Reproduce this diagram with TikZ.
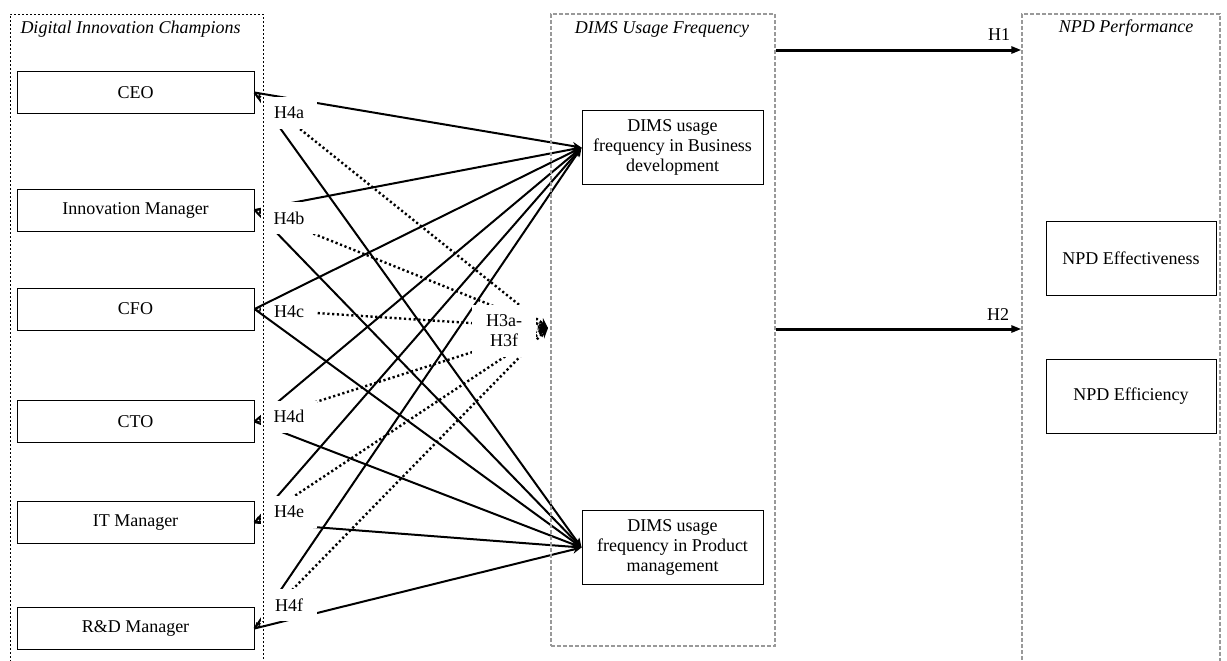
\documentclass[tikz,border=0pt]{standalone}
\usepackage{fontspec}
\setmainfont{Liberation Serif}
\usetikzlibrary{arrows.meta}
\newcommand\myfs{\fontsize{9}{10}\selectfont}
\tikzset{
  box/.style={draw, line width=0.5pt, inner sep=0pt, align=center, font=\myfs},
  lbox/.style={box, minimum width=118.5pt, minimum height=21pt},
  mbox/.style={box, minimum width=90.5pt, minimum height=37pt},
  rbox/.style={box, minimum width=85pt, minimum height=37pt},
  lbl/.style={fill=white, inner sep=0pt, minimum width=28pt, minimum height=16pt, font=\myfs},
  sol/.style={line width=1pt, -{Stealth[length=4.5pt,width=4pt]}},
  dotln/.style={line width=1.2pt, dash pattern=on 1.1pt off 1.3pt,
     {Triangle[open,length=3pt,width=3pt,line width=0.5pt]}-{Stealth[length=5pt,width=4.5pt]}},
  grpK/.style={draw, line width=0.5pt, dash pattern=on 1pt off 1pt, inner sep=0pt},
  grpG/.style={draw=black!40, line width=0.6pt, dash pattern=on 2pt off 1pt, inner sep=0pt},
  ttl/.style={font=\myfs\itshape, inner sep=0pt},
  thk/.style={line width=1.5pt, -{Triangle[length=5pt,width=3.5pt]}},
  hlab/.style={font=\myfs, inner sep=0pt}
}
\begin{document}
\begin{tikzpicture}[x=0.5pt,y=-0.5pt]
\useasboundingbox (0,0) rectangle (1227,660);
% left boxes
\node[lbox] (ceo) at (135.5,92.5) {CEO};
\node[lbox] (im)  at (135.5,210) {Innovation Manager};
\node[lbox] (cfo) at (135.5,309) {CFO};
\node[lbox] (cto) at (135.5,421.5) {CTO};
\node[lbox] (itm) at (135.5,522.5) {IT Manager};
\node[lbox] (rd)  at (135.5,628.5) {R\&D Manager};
% middle boxes
\node[mbox] (bd) at (672.5,147.5) {DIMS usage\\frequency in Business\\development};
\node[mbox] (pm) at (672.5,547.5) {DIMS usage\\frequency in Product\\management};
% right boxes
\node[rbox] (eff) at (1131,258) {NPD Effectiveness};
\node[rbox] (efc) at (1131,396) {NPD Efficiency};
% moderation tip
\coordinate (h3tip) at (548,328);
% dotted lines
\foreach \s in {ceo,im,cfo,cto,itm,rd}{
  \draw[dotln] (\s.east) -- (h3tip);
}
% H4c label sits beneath CFO solid lines
\node[lbl] (l4c) at (289,312) {H4c};
% solid lines
\foreach \s in {ceo,im,cfo,cto,itm,rd}{
  \draw[sol] (\s.east) -- (bd.west);
  \draw[sol] (\s.east) -- (pm.west);
}
% labels
\node[lbl] (l4a) at (289,113) {H4a};
\node[lbl] (l4b) at (289,218) {H4b};
\node[lbl] (l4d) at (289,416.5) {H4d};
\node[lbl] (l4e) at (289,511.5) {H4e};
\node[lbl] (l4f) at (289,605) {H4f};
\node[lbl, minimum width=32pt, minimum height=26pt, align=center] (l3) at (504,331) {H3a-\\H3f};
% groups
\node[grpK, minimum width=126.5pt, minimum height=324pt] (grpL) at (136.5,338) {};
\node[grpG, minimum width=112pt, minimum height=316pt] (grpM) at (663,330) {};
\node[grpG, minimum width=99pt, minimum height=324pt] (grpR) at (1121,338) {};
\node[ttl] (tL) at (130.5,29) {Digital Innovation Champions};
\node[ttl] (tM) at (662,29) {DIMS Usage Frequency};
\node[ttl] (tR) at (1126,28) {NPD Performance};
% H1, H2
\coordinate (y1) at (0,50);
\coordinate (y2) at (0,329);
\draw[thk] (grpM.east |- y1) -- (grpR.west |- y1);
\draw[thk] (grpM.east |- y2) -- (grpR.west |- y2);
\node[hlab] (h1) at (999,35) {H1};
\node[hlab] (h2) at (998,315) {H2};
\end{tikzpicture}
\end{document}
